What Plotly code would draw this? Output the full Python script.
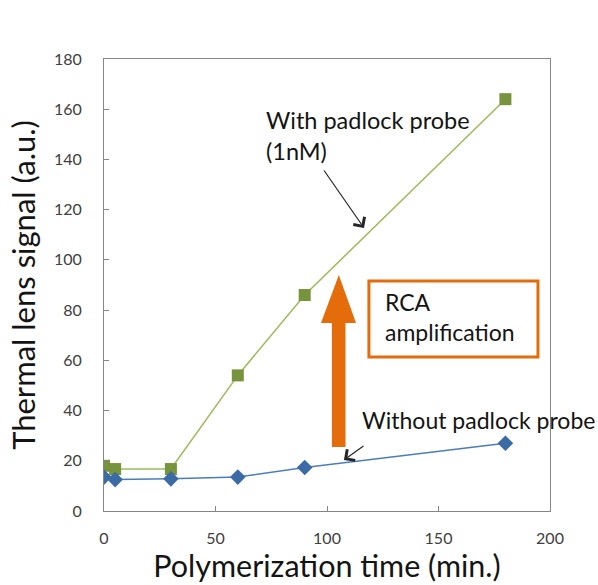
import plotly.graph_objects as go

time_min = [0, 5, 30, 60, 90, 180]
with_probe = [18, 16.7, 16.7, 54, 86, 164]
without_probe = [13.5, 12.5, 12.8, 13.5, 17.3, 27]

x_ticks = [0, 50, 100, 150, 200]
y_ticks = [0, 20, 40, 60, 80, 100, 120, 140, 160, 180]

FONT = "Lato"
ORANGE = "#E46C0A"
TXT = "#141414"

fig = go.Figure()
fig.add_trace(go.Scatter(
    x=time_min, y=with_probe, mode="lines+markers",
    line=dict(color="#9BBB59", width=1.5),
    marker=dict(symbol="square", size=12, color="#77933C"),
    name="With padlock probe (1nM)"))
fig.add_trace(go.Scatter(
    x=time_min, y=without_probe, mode="lines+markers",
    line=dict(color="#4A7EBB", width=1.5),
    marker=dict(symbol="diamond", size=12, color="#3B6BA5"),
    name="Without padlock probe"))

# orange thick arrow (shaft + head)
fig.add_shape(type="rect", xref="x", yref="y", x0=102.2, x1=108.3, y0=25.5, y1=75.5,
              fillcolor=ORANGE, line=dict(width=0))
fig.add_shape(type="path", xref="x", yref="y",
              path="M 97.3 74.9 L 113 74.9 L 105.3 94 Z",
              fillcolor=ORANGE, line=dict(width=0))
# orange box
fig.add_shape(type="rect", xref="x", yref="y", x0=118.8, x1=194.6, y0=61.3, y1=91.6,
              fillcolor="white", line=dict(color=ORANGE, width=3))

fig.add_annotation(x=125.1, y=77.3, xref="x", yref="y", text="RCA<br>amplification",
                   showarrow=False, xanchor="left", yanchor="middle", align="left",
                   font=dict(family=FONT, size=23, color=TXT))
fig.add_annotation(x=71.7, y=149.7, xref="x", yref="y", text="With padlock probe<br>(1nM)",
                   showarrow=False, xanchor="left", yanchor="middle", align="left",
                   font=dict(family=FONT, size=23.5, color=TXT))
fig.add_annotation(x=114.8, y=36.2, xref="x", yref="y", text="Without padlock probe",
                   showarrow=False, xanchor="left", yanchor="middle", align="left",
                   font=dict(family=FONT, size=23, color=TXT))

# thin arrows
fig.add_annotation(x=116.6, y=112.7, xref="x", yref="y", text="", showarrow=True,
                   ax=-41, ay=-59, arrowhead=4, arrowsize=2.2, arrowwidth=1.2,
                   arrowcolor="#262626")
fig.add_annotation(x=107.6, y=20.3, xref="x", yref="y", text="", showarrow=True,
                   ax=21, ay=-15, arrowhead=4, arrowsize=2.2, arrowwidth=1.2,
                   arrowcolor="#262626")

axis_common = dict(showline=True, mirror=True, linecolor="#868686", linewidth=1,
                   ticks="inside", ticklen=5, tickcolor="#868686",
                   showgrid=False, zeroline=False,
                   tickfont=dict(family=FONT, size=16, color="#404040"))

fig.update_layout(
    width=598, height=585,
    margin=dict(l=104, r=48, t=59, b=74),
    paper_bgcolor="white", plot_bgcolor="white",
    showlegend=False,
    xaxis=dict(range=[0, 200], tickvals=x_ticks, ticklabelstandoff=13,
               title=dict(text="Polymerization time (min.)", standoff=4,
                          font=dict(family=FONT, size=30.5, color=TXT)),
               **axis_common),
    yaxis=dict(range=[0, 180], tickvals=y_ticks, ticklabelstandoff=18,
               title=dict(text="Thermal lens signal (a.u.)", standoff=9,
                          font=dict(family=FONT, size=31, color=TXT)),
               **axis_common),
)

fig.write_html("out.html", config={"displayModeBar": False},
               post_script="document.body.style.margin='0';document.body.style.overflow='hidden';")
